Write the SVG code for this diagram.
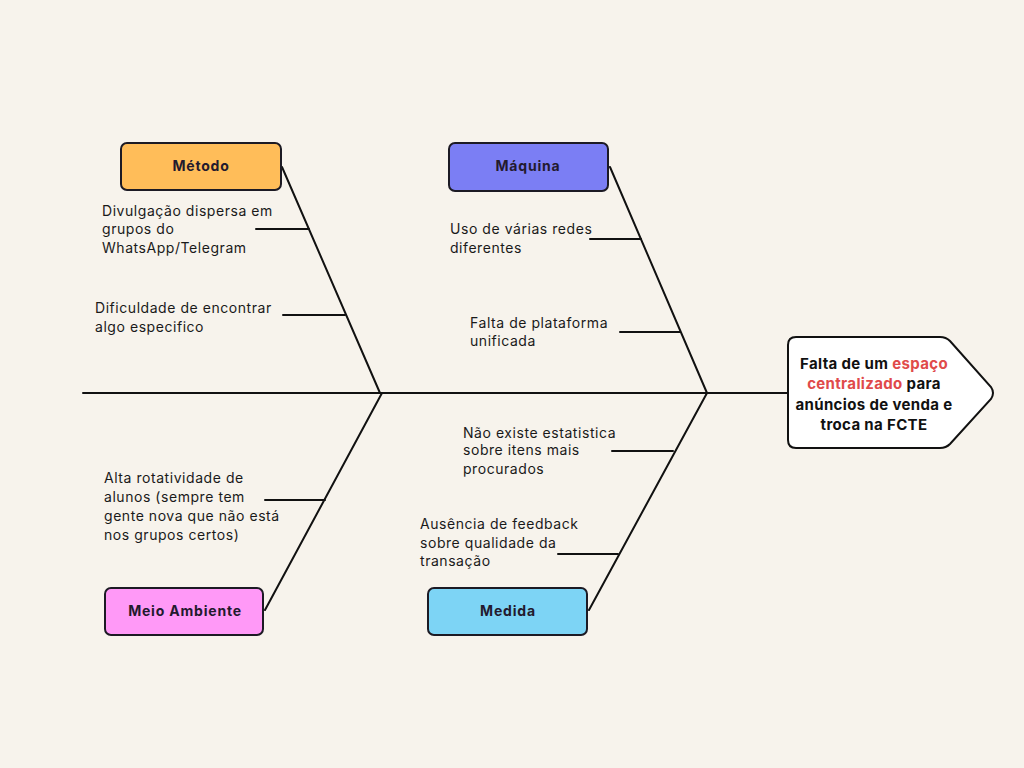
<svg xmlns="http://www.w3.org/2000/svg" width="1024" height="768" viewBox="0 0 1024 768">
<style>
.bg{fill:#F7F3EC}
.bone{stroke:#111;stroke-width:2;fill:none;stroke-linecap:round}
.box{stroke:#1c1a24;stroke-width:2}
.lbl{font-family:Inter,"Liberation Sans",sans-serif;font-weight:700;font-size:14px;letter-spacing:0.8px;fill:#231a2e;text-anchor:middle}
.txt{font-family:Inter,"Liberation Sans",sans-serif;font-size:14px;letter-spacing:0.55px;fill:#1a1a1a}
.eff{font-family:Inter,"Liberation Sans",sans-serif;font-weight:700;font-size:15px;letter-spacing:0.35px;fill:#111;text-anchor:middle}
.red{fill:#E04A4A}
</style>
<rect class="bg" x="0" y="0" width="1024" height="768"/>
<g id="connectors">
<line class="bone" x1="83" y1="393" x2="788" y2="393"/>
<line class="bone" x1="282" y1="167" x2="380" y2="393"/>
<line class="bone" x1="610" y1="167" x2="707" y2="393"/>
<line class="bone" x1="265" y1="610" x2="382" y2="393"/>
<line class="bone" x1="589" y1="610" x2="707" y2="393"/>
<line class="bone" x1="256" y1="229" x2="309" y2="229"/>
<line class="bone" x1="283" y1="315" x2="345" y2="315"/>
<line class="bone" x1="590" y1="239" x2="641" y2="239"/>
<line class="bone" x1="620" y1="332" x2="680" y2="332"/>
<line class="bone" x1="265" y1="500" x2="325" y2="500"/>
<line class="bone" x1="612" y1="451" x2="673" y2="451"/>
<line class="bone" x1="558" y1="554" x2="618" y2="554"/>
</g>
<g id="metodo">
<rect class="box" x="121" y="143" width="160" height="47" rx="6" fill="#FFBD59"/>
<text class="lbl" x="201" y="171">Método</text>
</g>
<g id="maquina">
<rect class="box" x="449" y="143" width="159" height="48" rx="6" fill="#7B7EF4"/>
<text class="lbl" x="528" y="171">Máquina</text>
</g>
<g id="meio-ambiente">
<rect class="box" x="105" y="588" width="158" height="47" rx="6" fill="#FF99F7"/>
<text class="lbl" x="185" y="616">Meio Ambiente</text>
</g>
<g id="medida">
<rect class="box" x="428" y="588" width="159" height="47" rx="6" fill="#7DD4F5"/>
<text class="lbl" x="508" y="616">Medida</text>
</g>
<g id="causa-metodo-1">
<text class="txt" x="102" y="216">Divulgação dispersa em</text>
<text class="txt" x="102" y="234">grupos do</text>
<text class="txt" x="102" y="253">WhatsApp/Telegram</text>
</g>
<g id="causa-metodo-2">
<text class="txt" x="95" y="313">Dificuldade de encontrar</text>
<text class="txt" x="95" y="332">algo especifico</text>
</g>
<g id="causa-maquina-1">
<text class="txt" x="450" y="234">Uso de várias redes</text>
<text class="txt" x="450" y="253">diferentes</text>
</g>
<g id="causa-maquina-2">
<text class="txt" x="470" y="328">Falta de plataforma</text>
<text class="txt" x="470" y="346">unificada</text>
</g>
<g id="causa-meio-1">
<text class="txt" x="104" y="483">Alta rotatividade de</text>
<text class="txt" x="104" y="502">alunos (sempre tem</text>
<text class="txt" x="104" y="521">gente nova que não está</text>
<text class="txt" x="104" y="540">nos grupos certos)</text>
</g>
<g id="causa-medida-1">
<text class="txt" x="463" y="438">Não existe estatistica</text>
<text class="txt" x="463" y="455">sobre itens mais</text>
<text class="txt" x="463" y="474">procurados</text>
</g>
<g id="causa-medida-2">
<text class="txt" x="420" y="529">Ausência de feedback</text>
<text class="txt" x="420" y="548">sobre qualidade da</text>
<text class="txt" x="420" y="566">transação</text>
</g>
<g id="efeito">
<path d="M796,337 L940,337 Q946,337 950,341 L991,387 Q995,393 991,399 L950,444 Q946,448 940,448 L796,448 Q788,448 788,440 L788,345 Q788,337 796,337 Z" fill="#fff" stroke="#111" stroke-width="2"/>
<text class="eff" x="874" y="369">Falta de um <tspan class="red">espaço</tspan></text>
<text class="eff" x="874" y="389"><tspan class="red">centralizado</tspan> para</text>
<text class="eff" x="874" y="410">anúncios de venda e</text>
<text class="eff" x="874" y="430">troca na FCTE</text>
</g>
</svg>
